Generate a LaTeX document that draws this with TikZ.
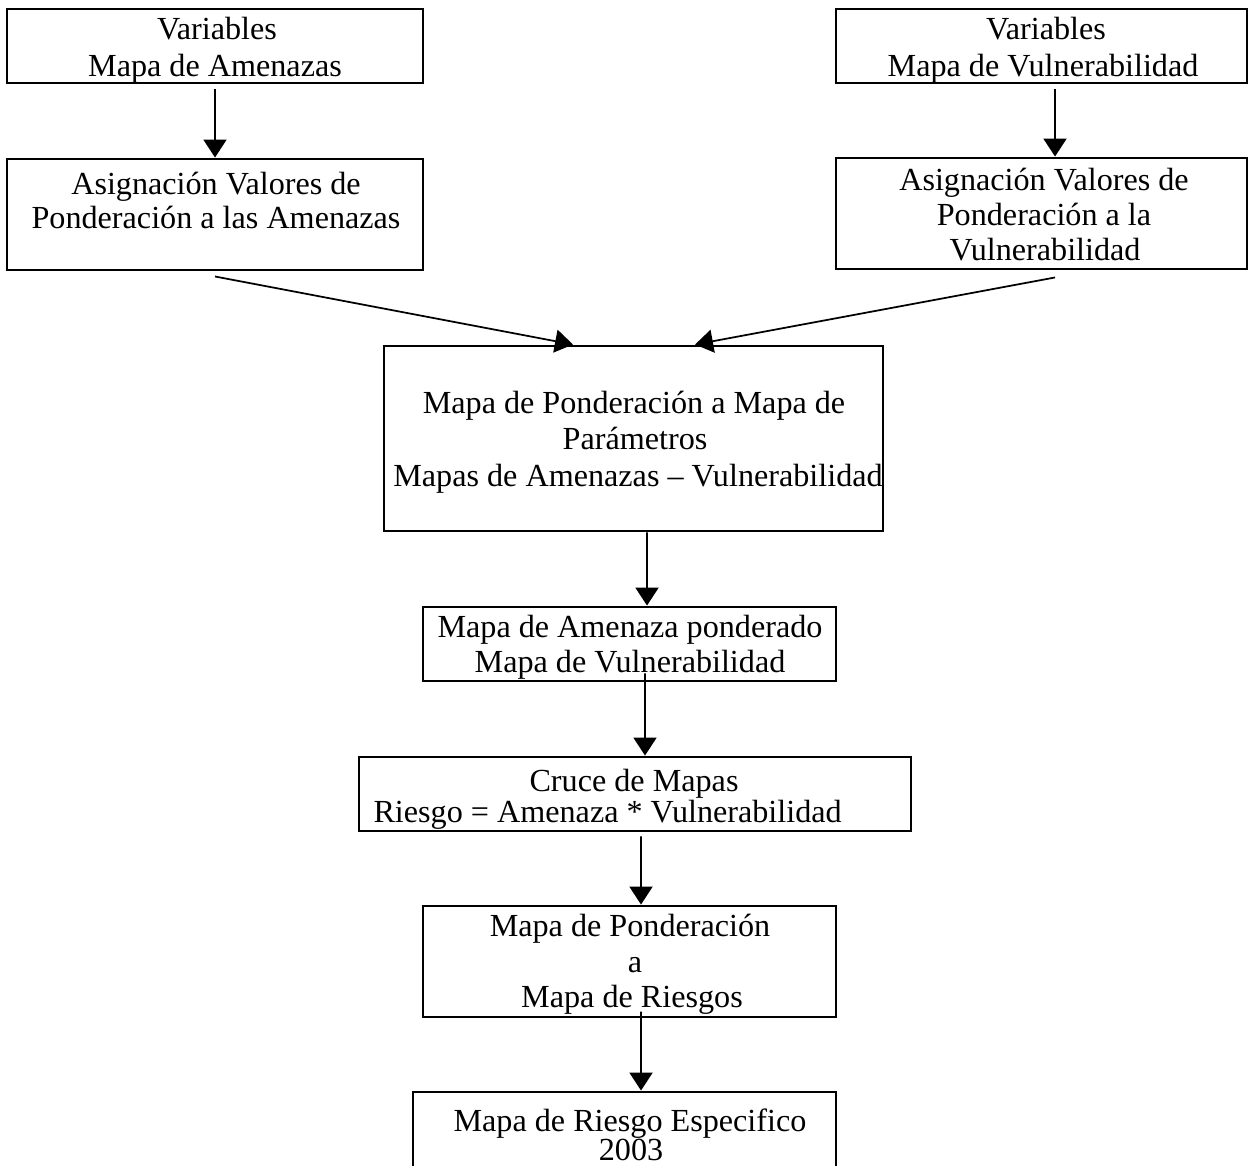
\documentclass[tikz,border=0pt]{standalone}
\usepackage{fontspec}
\setmainfont{Liberation Serif}
\usetikzlibrary{arrows.meta,fit}
\begin{document}
\begin{tikzpicture}[x=0.3731pt,y=-0.3731pt,
  box/.style={draw, line width=1.1pt, inner sep=0pt, rectangle},
  txt/.style={anchor=base, inner sep=0pt, font=\fontsize{12pt}{13.8pt}\selectfont},
  arr/.style={line width=0.65pt, -{Triangle[length=6.7pt,width=8.6pt]}}]
\clip (0,0) rectangle (1250,1165);
\fill[white] (0,0) rectangle (1250,1165);
% boxes
\node[box, fit={(7,9) (423,83)}] (b1) {};
\node[box, fit={(7,159) (423,270)}] (b2) {};
\node[box, fit={(836,9) (1247,83)}] (b3) {};
\node[box, fit={(836,158) (1247,269)}] (b4) {};
\node[box, fit={(384,346) (883,531)}] (b5) {};
\node[box, fit={(423,607) (836,681)}] (b6) {};
\node[box, fit={(359,757) (911,831)}] (b7) {};
\node[box, fit={(423,906) (836,1017)}] (b8) {};
\node[box, fit={(413,1092) (836,1180)}] (b9) {};
% texts
\node[txt] (t1a) at (217,39) {Variables};
\node[txt] (t1b) at (215,76) {Mapa de Amenazas};
\node[txt] (t3a) at (1046,39) {Variables};
\node[txt] (t3b) at (1043,76) {Mapa de Vulnerabilidad};
\node[txt] (t2a) at (216,194) {Asignación Valores de};
\node[txt] (t2b) at (216,228) {Ponderación a las Amenazas};
\node[txt] (t4a) at (1044,190) {Asignación Valores de};
\node[txt] (t4b) at (1044,225) {Ponderación a la};
\node[txt] (t4c) at (1045,260) {Vulnerabilidad};
\node[txt] (t5a) at (634,413) {Mapa de Ponderación a Mapa de};
\node[txt] (t5b) at (635,449) {Parámetros};
\node[txt] (t5c) at (638,486) {Mapas de Amenazas – Vulnerabilidad};
\node[txt] (t6a) at (630,637) {Mapa de Amenaza ponderado};
\node[txt] (t6b) at (630,672) {Mapa de Vulnerabilidad};
\node[txt] (t7a) at (634,791) {Cruce de Mapas};
\node[txt, anchor=base west] (t7b) at (373,822) {Riesgo = Amenaza * Vulnerabilidad};
\node[txt] (t8a) at (630,936) {Mapa de Ponderación};
\node[txt] (t8b) at (635,972) {a};
\node[txt] (t8c) at (632,1007) {Mapa de Riesgos};
\node[txt] (t9a) at (630,1131) {Mapa de Riesgo Especifico};
\node[txt] (t9b) at (631,1160) {2003};
% connectors
\draw[arr] ([yshift=-1.87pt]b1.south) -- (b2.north);
\draw[arr] ([xshift=5.04pt,yshift=-1.87pt]b3.south) -- ([xshift=5.04pt]b4.north);
\draw[arr] ([yshift=-1.87pt]b2.south) -- ([xshift=-22.57pt]b5.north);
\draw[arr] ([xshift=5.04pt,yshift=-2.61pt]b4.south) -- ([xshift=22.95pt]b5.north);
\draw[arr] ([xshift=5.04pt]b5.south) -- ([xshift=6.53pt]b6.north);
\draw[arr] ([xshift=5.78pt,yshift=3.36pt]b6.south) -- ([xshift=3.73pt]b7.north);
\draw[arr] ([xshift=2.24pt,yshift=-1.49pt]b7.south) -- ([xshift=4.29pt]b8.north);
\draw[arr] ([xshift=4.29pt,yshift=2.61pt]b8.south) -- ([xshift=6.16pt]b9.north);
\end{tikzpicture}
\end{document}
